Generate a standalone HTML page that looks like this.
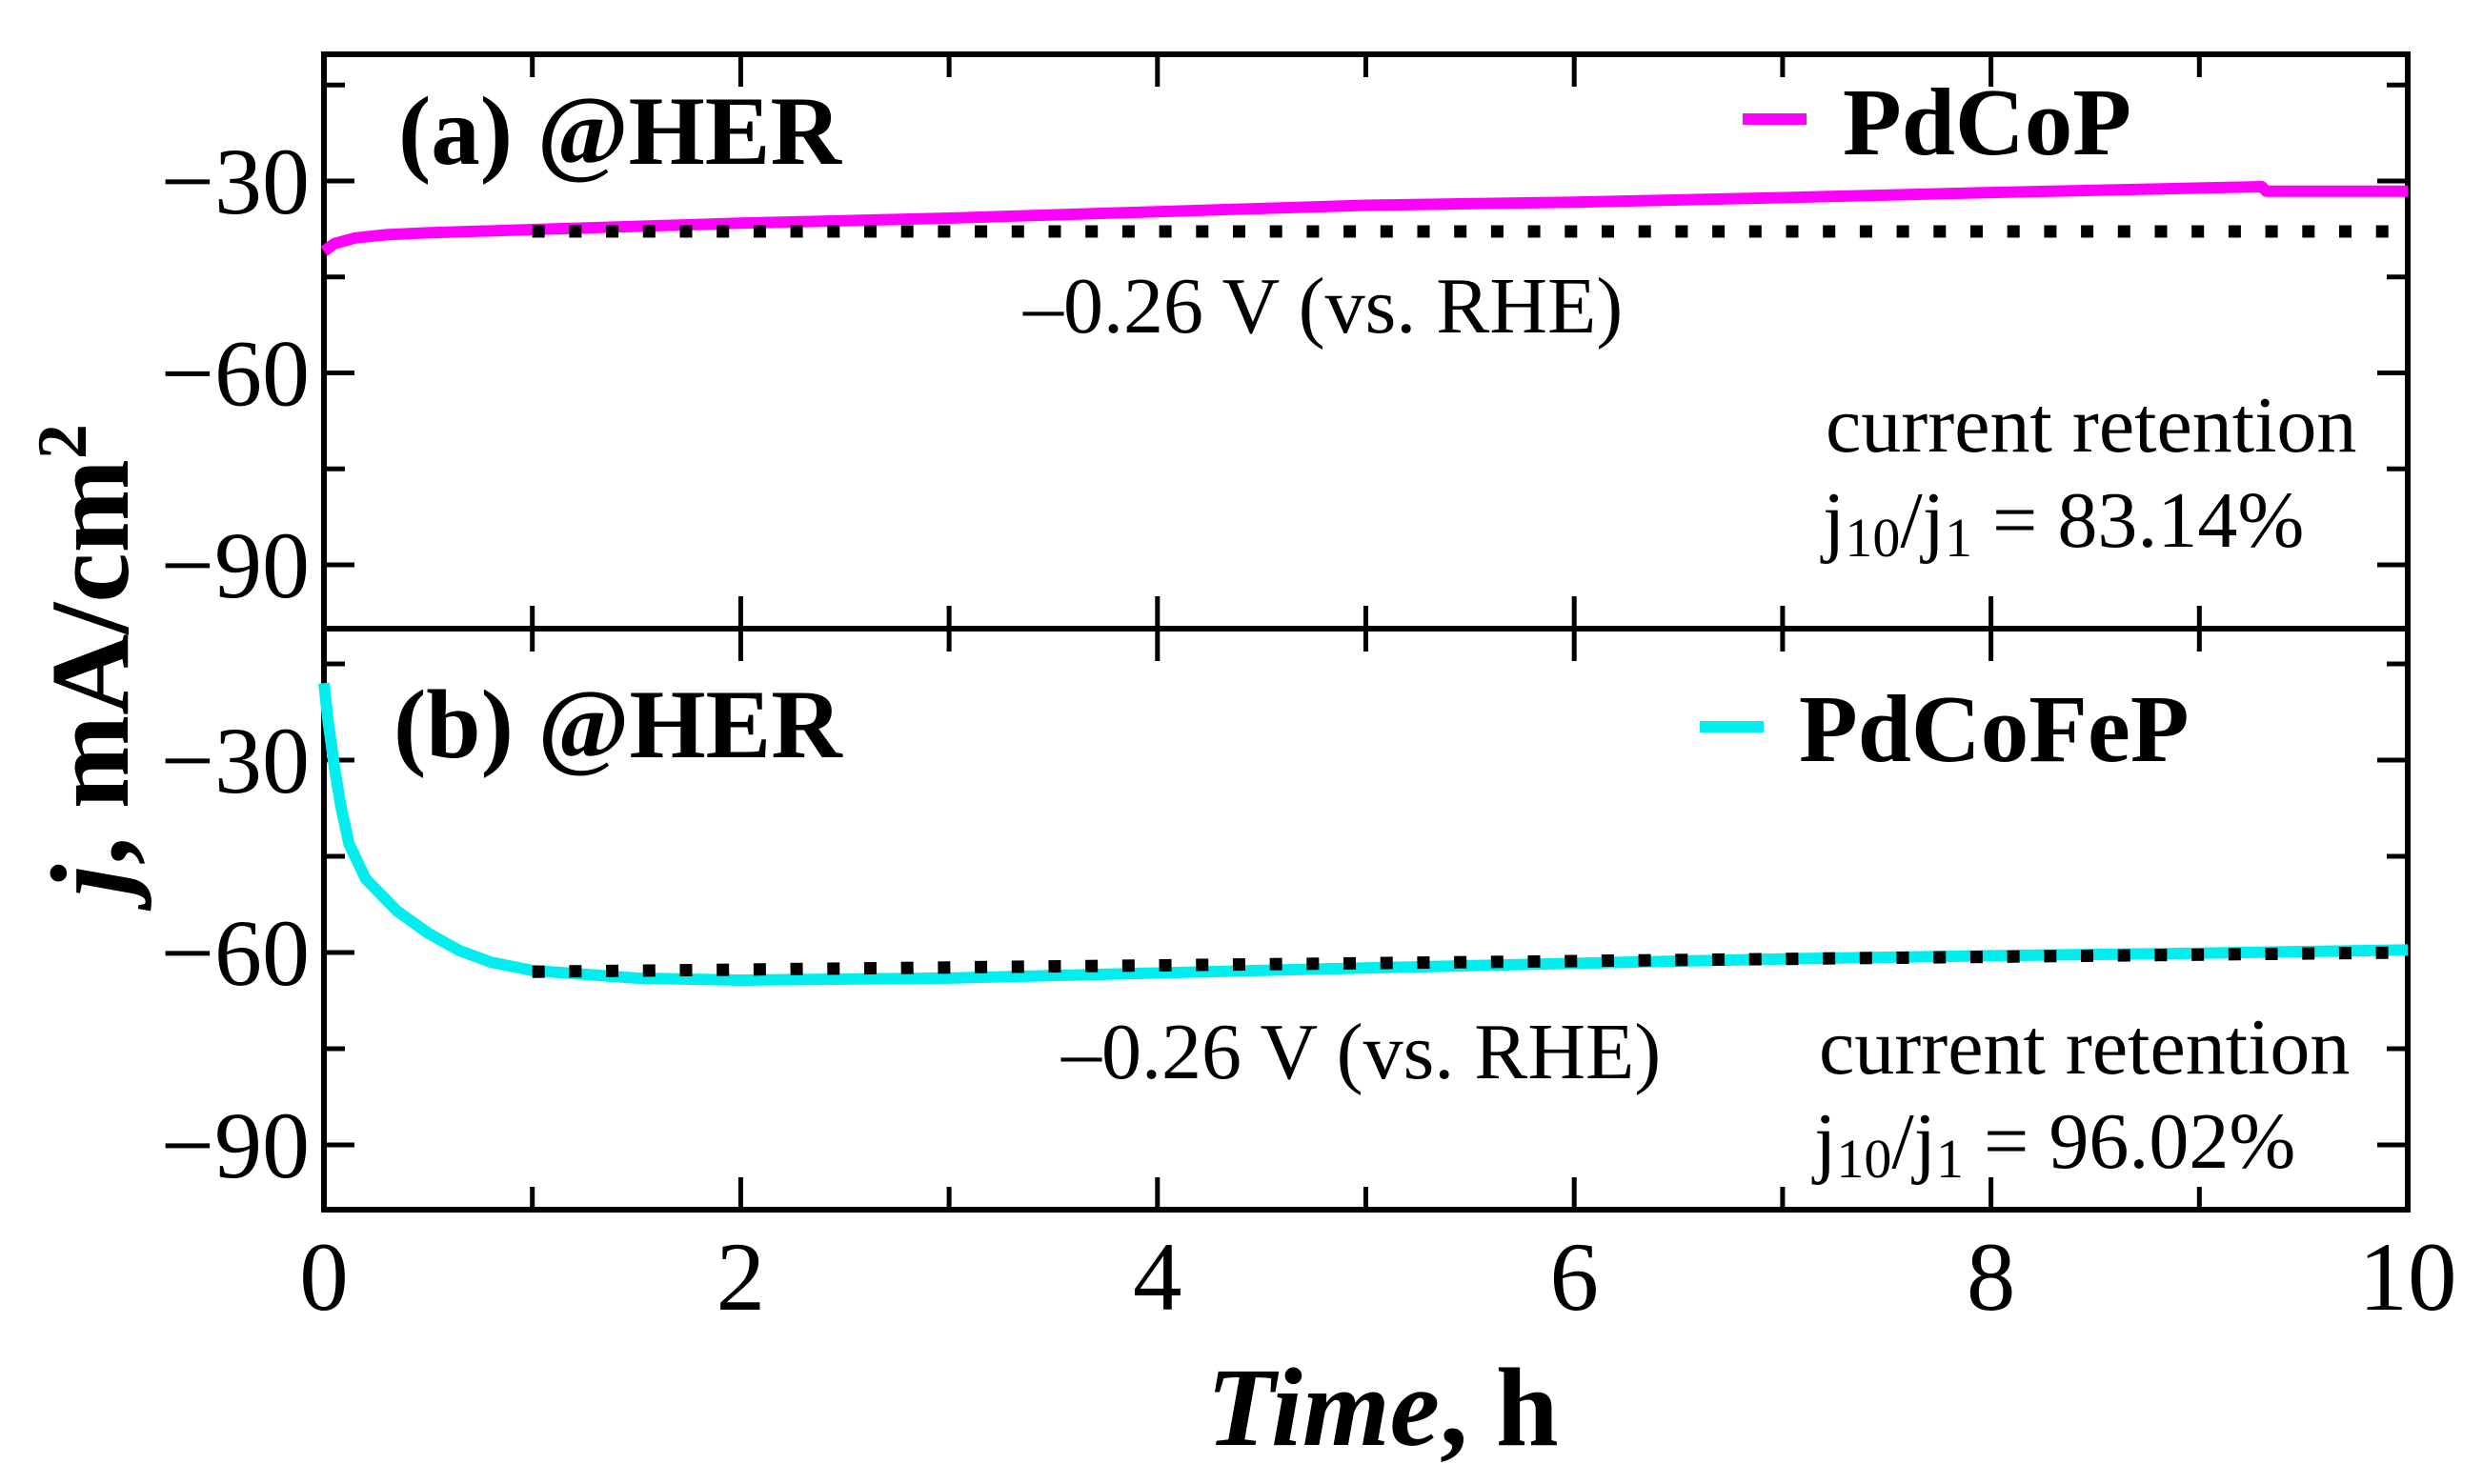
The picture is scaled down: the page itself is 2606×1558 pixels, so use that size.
<!DOCTYPE html>
<html><head><meta charset="utf-8"><style>
html,body{margin:0;padding:0;background:#fff;}
svg{display:block;font-family:"Liberation Serif",serif;}
</style></head><body>
<svg id="chart" width="2606" height="1558" viewBox="0 0 2606 1558" xmlns="http://www.w3.org/2000/svg" style="position:absolute;left:0;top:0">
<g id="axes"></g>
<g id="marks"></g>
<g id="labels"></g>
</svg>
<script>
const xTicks=[0,2,4,6,8,10];
const xMinor=[1,3,5,7,9];
const yTicks=[-30,-60,-90];
const yMinor=[-15,-45,-75];
const tA=[0,0.05,0.15,0.3,0.5,1,2,3,4,5,6,7,8,9,9.3,9.32,10];
const jA=[-41,-39.8,-38.9,-38.4,-38.1,-37.6,-36.6,-35.8,-34.8,-33.8,-33.3,-32.6,-31.8,-31.1,-30.9,-31.6,-31.6];
const tB=[0,0.02,0.05,0.08,0.12,0.2,0.35,0.5,0.65,0.8,1,1.5,2,3,4,5,6,7,8,9,10];
const jB=[-18,-24,-31,-37,-43,-48.5,-53.5,-57,-59.7,-61.5,-62.8,-64,-64.3,-64,-63.2,-62.4,-61.7,-61,-60.5,-60.1,-59.6];
const dotA=[[1,-37.9],[10,-37.9]];
const dotB=[[1,-63],[10,-60]];
const NS="http://www.w3.org/2000/svg";
const L=340,R=2527,TOP=57,MID=660,BOT=1270;
const x=t=>L+(R-L)*t/10;
const yA=v=>190+(-30-v)*201.5/30;
const yB=v=>798+(-30-v)*202/30;
function mk(tag,attrs,parent,text){const e=document.createElementNS(NS,tag);for(const k in attrs)e.setAttribute(k,attrs[k]);if(text!==undefined)e.textContent=text;document.getElementById(parent).appendChild(e);return e;}
const ax='axes';
let e;
e=mk('rect',{x:L,y:TOP,width:R-L,height:BOT-TOP,fill:'none',stroke:'#000','stroke-width':6},ax);

e=mk('line',{x1:L,x2:R,y1:MID,y2:MID,stroke:'#000','stroke-width':6},ax);

function xt(t,len){
  [[TOP,1],[MID,-1],[MID,1],[BOT,-1]].forEach(([y0,d])=>{
    const l=mk('line',{x1:x(t),x2:x(t),y1:y0,y2:y0+d*len,stroke:'#000','stroke-width':5},ax);
    
  });
}
xTicks.forEach(t=>xt(t,34));xMinor.forEach(t=>xt(t,24));
[yA,yB].forEach(yf=>{
  yTicks.forEach(v=>{[[L,1],[R,-1]].forEach(([x0,d])=>{const l=mk('line',{x1:x0,x2:x0+d*32,y1:yf(v),y2:yf(v),stroke:'#000','stroke-width':5},ax);});});
  yMinor.forEach(v=>{[[L,1],[R,-1]].forEach(([x0,d])=>{const l=mk('line',{x1:x0,x2:x0+d*22,y1:yf(v),y2:yf(v),stroke:'#000','stroke-width':5},ax);});});
  yTicks.forEach(v=>{const t=mk('text',{x:325,y:yf(v)+34,'text-anchor':'end','font-size':100},'labels','\u2212'+Math.abs(v));});
});
xTicks.forEach(t=>{const tx=mk('text',{x:x(t),y:1375,'text-anchor':'middle','font-size':103},'labels',String(t));});
function path(ts,js,yf){return ts.map((t,i)=>(i?'L':'M')+x(t).toFixed(1)+' '+yf(js[i]).toFixed(1)).join(' ');}
e=mk('path',{d:path(tA,jA,yA),fill:'none',stroke:'#ff00ff','stroke-width':12,'stroke-linejoin':'round'},'marks');

e=mk('path',{d:path(tB,jB,yB),fill:'none',stroke:'#00eeee','stroke-width':12,'stroke-linejoin':'round'},'marks');

e=mk('line',{x1:x(dotA[0][0]),y1:yA(dotA[0][1]),x2:x(dotA[1][0]),y2:yA(dotA[1][1]),stroke:'#000','stroke-width':13,'stroke-dasharray':'13 25.7'},'marks');

e=mk('line',{x1:x(dotB[0][0]),y1:yB(dotB[0][1]),x2:x(dotB[1][0]),y2:yB(dotB[1][1]),stroke:'#000','stroke-width':13,'stroke-dasharray':'13 25.7'},'marks');

e=mk('line',{x1:1829,x2:1896,y1:125,y2:125,stroke:'#ff00ff','stroke-width':12},'marks');

e=mk('line',{x1:1784,x2:1851,y1:763,y2:763,stroke:'#00eeee','stroke-width':12},'marks');

</script>
<svg style="position:absolute;left:0;top:0" width="2606" height="1558" xmlns="http://www.w3.org/2000/svg" font-family="Liberation Serif, serif">
<text x="418" y="172" font-size="103" font-weight="bold">(a) @HER</text>
<text x="1934" y="162" font-size="101" font-weight="bold">PdCoP</text>
<text x="1074" y="349" font-size="84">–0.26 V (vs. RHE)</text>
<text x="1916" y="474" font-size="84">current retention</text>
<text x="1913" y="574" font-size="84">j<tspan font-size="58" dy="10">10</tspan><tspan dy="-10">/j</tspan><tspan font-size="58" dy="10">1</tspan><tspan dy="-10"> = 83.14%</tspan></text>
<text x="413" y="795" font-size="103" font-weight="bold">(b) @HER</text>
<text x="1888" y="799" font-size="101" font-weight="bold">PdCoFeP</text>
<text x="1114" y="1132" font-size="84">–0.26 V (vs. RHE)</text>
<text x="1909" y="1127" font-size="84">current retention</text>
<text x="1904" y="1226" font-size="84">j<tspan font-size="58" dy="10">10</tspan><tspan dy="-10">/j</tspan><tspan font-size="58" dy="10">1</tspan><tspan dy="-10"> = 96.02%</tspan></text>
<text x="1451" y="1517" font-size="118" font-weight="bold" text-anchor="middle"><tspan font-style="italic">Time</tspan>, h</text>
<text transform="translate(134,693) rotate(-90)" font-size="118" font-weight="bold" text-anchor="middle"><tspan font-style="italic">j</tspan>, mA/cm<tspan font-size="74" dy="-44">2</tspan></text>
</svg>
</body></html>
